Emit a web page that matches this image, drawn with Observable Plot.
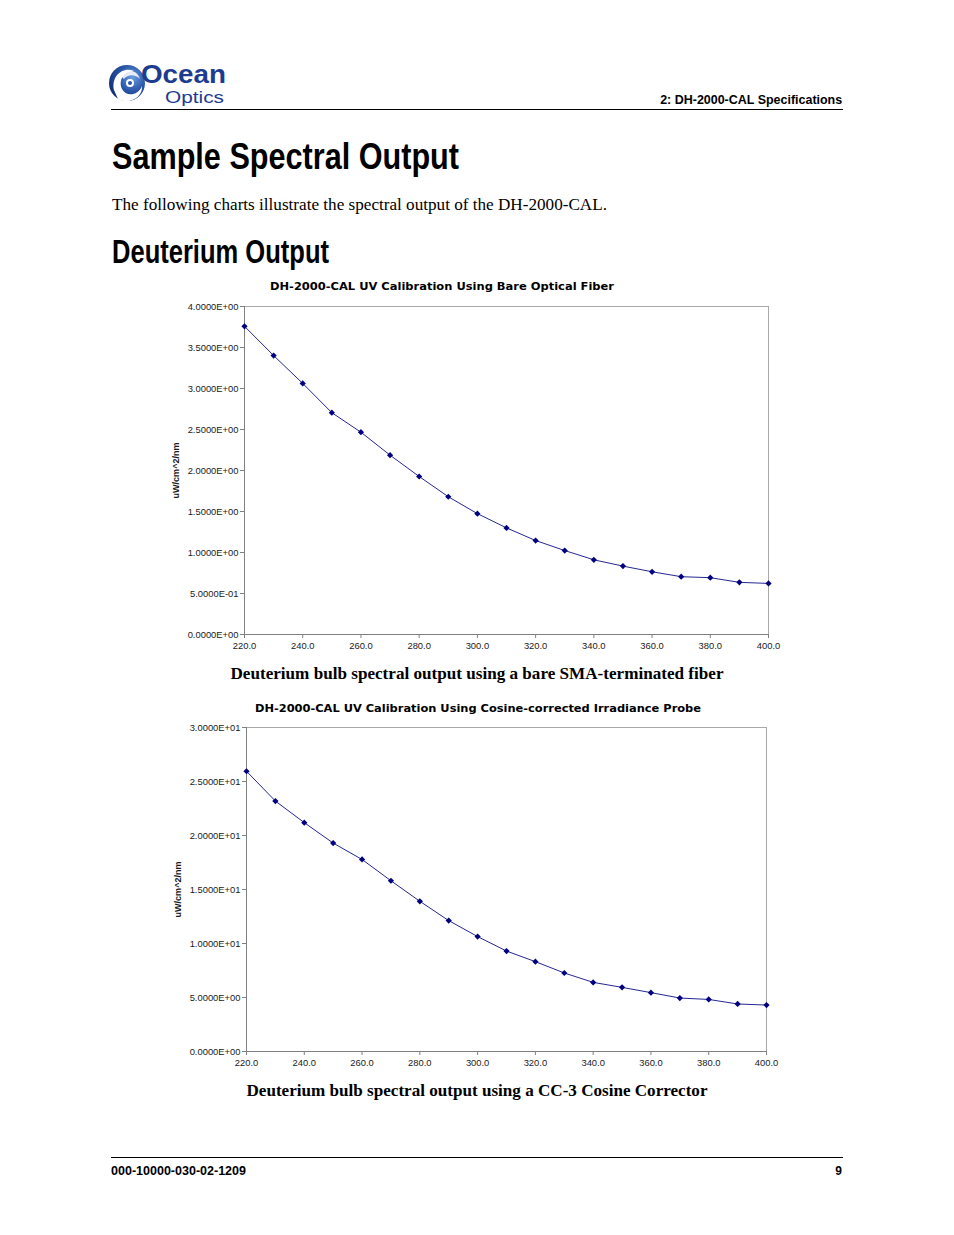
<!DOCTYPE html>
<html>
<head>
<meta charset="utf-8">
<script src="https://cdn.jsdelivr.net/npm/d3@7"></script>
<script src="https://cdn.jsdelivr.net/npm/@observablehq/plot@0.6"></script>
<style>
  html, body { margin: 0; padding: 0; background: #fff; }
  #page { position: relative; width: 954px; height: 1235px; overflow: hidden; background: #fff; }
  .t { position: absolute; white-space: nowrap; line-height: 1; color: #000; }
  .sans { font-family: "Liberation Sans", Arial, sans-serif; }
  .serif { font-family: "Liberation Serif", "Times New Roman", serif; }
  .wide { font-family: "DejaVu Sans", Verdana, sans-serif; }
  .hr { position: absolute; left: 111px; width: 732px; height: 1px; background: #000; }
  .chart { position: absolute; }
</style>
</head>
<body>
<div id="page">
  <svg class="chart" style="left:108px;top:56px" width="122" height="52" viewBox="0 0 122 52">
    <defs>
      <radialGradient id="g1" cx="0.65" cy="0.35" r="0.75">
        <stop offset="0" stop-color="#6a9ee0"/>
        <stop offset="0.5" stop-color="#2a56a8"/>
        <stop offset="1" stop-color="#0f2a6e"/>
      </radialGradient>
    </defs>
    <g transform="translate(0,4)">
      <circle cx="19" cy="23" r="18" fill="url(#g1)"/>
      <path d="M6 30 C 3 16, 15 6, 26 11 C 16 11, 10 20, 14 29 C 18 37, 30 36, 34 26 C 35 38, 20 45, 10 39 Z" fill="#fff"/>
      <path d="M12 15 C 17 8, 29 9, 32 19 C 27 14, 20 14, 16 19 Z" fill="#fff" opacity="0.85"/>
      <circle cx="22" cy="23" r="4" fill="#fff"/>
      <circle cx="22" cy="23" r="2" fill="#2a56a8"/>
    </g>
    <text x="33" y="27" font-family="Liberation Sans, Arial, sans-serif" fill="#1d3c8f" font-size="25" font-weight="bold" textLength="85" lengthAdjust="spacingAndGlyphs">Ocean</text>
    <text x="57" y="46.5" font-family="Liberation Sans, Arial, sans-serif" fill="#1d3c8f" font-size="17" textLength="59" lengthAdjust="spacingAndGlyphs">Optics</text>
  </svg>

  <div class="t sans" data-w="182" data-align="right" style="right:112px;top:93.5px;font-size:12px;font-weight:bold">2: DH-2000-CAL Specifications</div>
  <div class="hr" style="top:109px"></div>

  <div class="t sans" data-w="347" style="left:112px;top:137.5px;font-size:37px;font-weight:bold">Sample Spectral Output</div>
  <div class="t serif" data-w="495" style="left:112px;top:196.5px;font-size:16.5px">The following charts illustrate the spectral output of the DH-2000-CAL.</div>
  <div class="t sans" data-w="217" style="left:112px;top:235px;font-size:33px;font-weight:bold">Deuterium Output</div>

  <div class="t wide" data-w="344" data-align="center" style="left:442px;top:282px;font-size:10px;font-weight:bold">DH-2000-CAL UV Calibration Using Bare Optical Fiber</div>
  <div id="chart1" class="chart" style="left:170px;top:296px"></div>
  <div class="t serif" data-w="493" data-align="center" style="left:477px;top:665px;font-size:17px;font-weight:bold">Deuterium bulb spectral output using a bare SMA-terminated fiber</div>

  <div class="t wide" data-w="446" data-align="center" style="left:478px;top:704px;font-size:10px;font-weight:bold">DH-2000-CAL UV Calibration Using Cosine-corrected Irradiance Probe</div>
  <div id="chart2" class="chart" style="left:170px;top:717px"></div>
  <div class="t serif" data-w="461" data-align="center" style="left:477px;top:1082px;font-size:17px;font-weight:bold">Deuterium bulb spectral output using a CC-3 Cosine Corrector</div>

  <div class="hr" style="top:1157px"></div>
  <div class="t sans" data-w="135" style="left:111px;top:1165px;font-size:12px;font-weight:bold">000-10000-030-02-1209</div>
  <div class="t sans" data-align="right" style="right:112px;top:1165px;font-size:12px;font-weight:bold">9</div>
</div>
<script>
// ---- data ----
const wavelengths = [220, 230, 240, 250, 260, 270, 280, 290, 300, 310, 320, 330, 340, 350, 360, 370, 380, 390, 400];
const bareFiber = [3.758, 3.402, 3.062, 2.705, 2.467, 2.187, 1.927, 1.680, 1.474, 1.300, 1.146, 1.024, 0.911, 0.834, 0.765, 0.705, 0.693, 0.636, 0.623];
const cosineProbe = [25.95, 23.19, 21.19, 19.30, 17.78, 15.81, 13.91, 12.12, 10.64, 9.30, 8.32, 7.27, 6.40, 5.94, 5.45, 4.95, 4.82, 4.40, 4.30];
const xTicks = [220, 240, 260, 280, 300, 320, 340, 360, 380, 400];
const yTicks1 = [0, 0.5, 1, 1.5, 2, 2.5, 3, 3.5, 4];
const yTicks2 = [0, 5, 10, 15, 20, 25, 30];
const yLabel = "uW/cm^2/nm";

function sci(d) {
  const [m, e] = d.toExponential(4).split("e");
  const n = +e;
  return m + "E" + (n < 0 ? "-" : "+") + String(Math.abs(n)).padStart(2, "0");
}

function chart(values, yTicks, yMax, opts) {
  const data = wavelengths.map((w, i) => ({w, v: values[i]}));
  return Plot.plot({
    width: 620,
    height: opts.height,
    marginLeft: opts.marginLeft,
    marginRight: opts.marginRight,
    marginTop: 10,
    marginBottom: 26,
    style: {fontFamily: "Liberation Sans, Arial, sans-serif", fontSize: "9.4px", color: "#1a1a1a", background: "#fff"},
    x: {domain: [220, 400]},
    y: {domain: [0, yMax]},
    marks: [
      Plot.frame({stroke: "#a8a8a8"}),
      Plot.axisX({ticks: xTicks, tickFormat: d => d.toFixed(1), tickSize: 4, tickPadding: 4, label: null, stroke: "#808080"}),
      Plot.axisY({ticks: yTicks, tickFormat: sci, tickSize: 4, tickPadding: 2, label: null, stroke: "#808080"}),
      Plot.ruleX([220], {stroke: "#808080"}),
      Plot.ruleY([0], {stroke: "#808080"}),
      Plot.text([yLabel], {frameAnchor: "left", textAnchor: "middle", rotate: -90, dx: opts.labelDx, fontWeight: "bold", fontSize: 9, fill: "#1a1a1a"}),
      Plot.line(data, {x: "w", y: "v", stroke: "#000080", strokeWidth: 1, strokeOpacity: 0.85}),
      Plot.dot(data, {x: "w", y: "v", symbol: "diamond2", r: 2.8, fill: "#000080", stroke: "none"})
    ]
  });
}

document.getElementById("chart1").append(chart(bareFiber, yTicks1, 4, {height: 364, marginLeft: 74, marginRight: 22, labelDx: -68}));
document.getElementById("chart2").append(chart(cosineProbe, yTicks2, 30, {height: 360, marginLeft: 76, marginRight: 24, labelDx: -68}));

// fit text widths to the reference
document.querySelectorAll(".t").forEach(el => {
  const align = el.dataset.align || "left";
  const w = el.getBoundingClientRect().width;
  const target = el.dataset.w ? +el.dataset.w : w;
  const s = target / w;
  if (align === "center") {
    el.style.transformOrigin = "0 0";
    el.style.transform = `translateX(${-target / 2}px) scaleX(${s})`;
  } else if (align === "right") {
    el.style.transformOrigin = "100% 0";
    el.style.transform = `scaleX(${s})`;
  } else {
    el.style.transformOrigin = "0 0";
    el.style.transform = `scaleX(${s})`;
  }
});
</script>
</body>
</html>
